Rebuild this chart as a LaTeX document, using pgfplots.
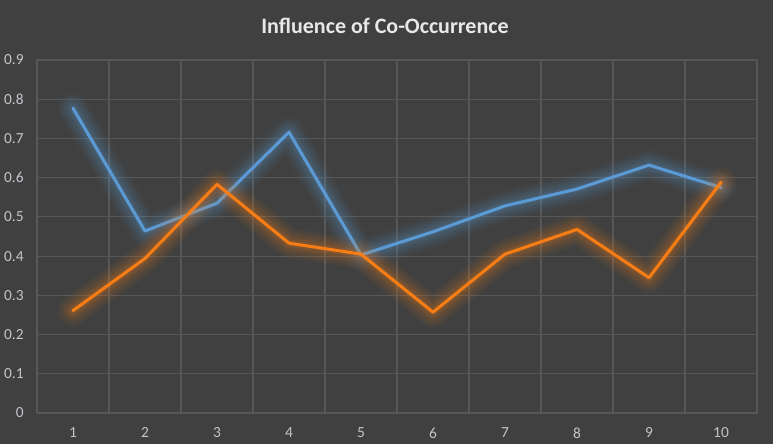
\documentclass[border=0pt]{standalone}
\usepackage{fontspec}
\setmainfont{Carlito}
\usepackage{pgfplots}
\usepackage{pgfplotstable}
\pgfplotsset{compat=1.18}
\definecolor{bg}{HTML}{404040}
\definecolor{gridc}{HTML}{575757}
\definecolor{tickc}{HTML}{C2C5CA}
\definecolor{titlec}{HTML}{E8E8E8}
\definecolor{lblue}{HTML}{5B9BD5}
\definecolor{lorange}{HTML}{F77D14}
\pgfplotstableread{
x blue orange
1 0.777 0.261
2 0.464 0.394
3 0.535 0.583
4 0.716 0.433
5 0.403 0.405
6 0.462 0.257
7 0.528 0.405
8 0.571 0.468
9 0.632 0.345
10 0.575 0.588
}\datatab
\begin{document}
\begin{tikzpicture}
\fill[bg] (0,0) rectangle (386.5pt,222pt);
\useasboundingbox (0,0) rectangle (386.5pt,222pt);
\begin{axis}[
  at={(18.5pt,15.5pt)}, anchor=south west,
  scale only axis, width=360pt, height=176.5pt,
  xmin=0.5, xmax=10.5, ymin=0, ymax=0.9,
  xtick={1,...,10},
  minor xtick={0.5,1.5,...,10.5},
  ytick={0,0.1,0.2,0.3,0.4,0.5,0.6,0.7,0.8,0.9},
  yticklabels={0,0.1,0.2,0.3,0.4,0.5,0.6,0.7,0.8,0.9},
  xticklabels={1,2,3,4,5,6,7,8,9,10},
  xmajorgrids=false, xminorgrids=true, ymajorgrids=true,
  grid style={gridc, line width=0.6pt},
  minor grid style={gridc, line width=0.6pt},
  axis line style={draw=none},
  major tick length=0pt, minor tick length=0pt,
  tick style={draw=none},
  ticklabel style={font=\fontsize{7.7}{9}\selectfont, text=tickc},
  xticklabel style={anchor=center, yshift=-10pt},
  yticklabel style={anchor=east, xshift=-6.5pt, inner sep=0pt},
  title={Influence of Co-Occurrence},
  title style={at={(0.5,1)}, anchor=center, yshift=11pt, xshift=-6pt,
    font=\fontsize{11}{13}\selectfont\bfseries, text=titlec},
  line join=round, line cap=round,
]
% blue glow + line
\addplot[lblue, line width=15pt, opacity=0.05, forget plot] table[x=x,y=blue] {\datatab};
\addplot[lblue, line width=12pt, opacity=0.06, forget plot] table[x=x,y=blue] {\datatab};
\addplot[lblue, line width=9pt, opacity=0.08, forget plot] table[x=x,y=blue] {\datatab};
\addplot[lblue, line width=6pt, opacity=0.10, forget plot] table[x=x,y=blue] {\datatab};
\addplot[lblue, line width=3.5pt, opacity=0.12, forget plot] table[x=x,y=blue] {\datatab};
\addplot[lblue, line width=1.5pt] table[x=x,y=blue] {\datatab};
% orange glow + line
\addplot[lorange, line width=15pt, opacity=0.05, forget plot] table[x=x,y=orange] {\datatab};
\addplot[lorange, line width=12pt, opacity=0.06, forget plot] table[x=x,y=orange] {\datatab};
\addplot[lorange, line width=9pt, opacity=0.08, forget plot] table[x=x,y=orange] {\datatab};
\addplot[lorange, line width=6pt, opacity=0.10, forget plot] table[x=x,y=orange] {\datatab};
\addplot[lorange, line width=3.5pt, opacity=0.12, forget plot] table[x=x,y=orange] {\datatab};
\addplot[lorange, line width=1.5pt] table[x=x,y=orange] {\datatab};
\end{axis}
\end{tikzpicture}
\end{document}
